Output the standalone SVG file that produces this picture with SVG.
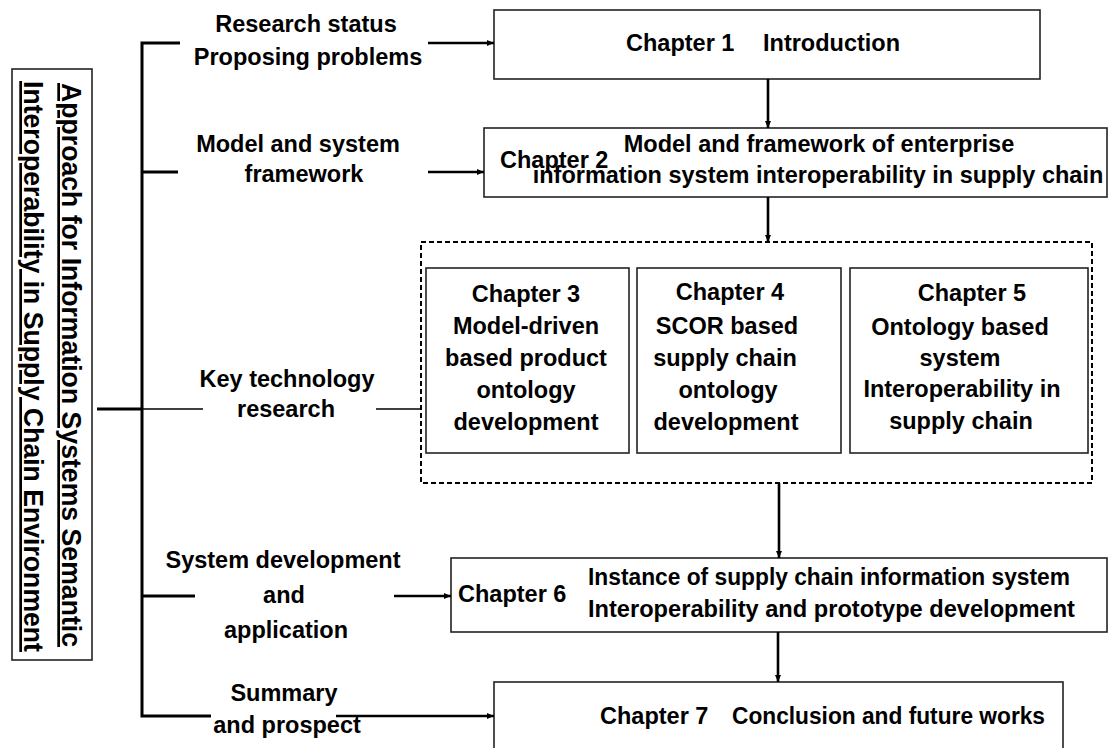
<svg xmlns="http://www.w3.org/2000/svg" width="1108" height="748" viewBox="0 0 1108 748">
<style>
text{font-family:"Liberation Sans",Arial,sans-serif;font-weight:bold;font-size:23.5px;fill:#000}
.c{text-anchor:middle}
.box{fill:#fff;stroke:#222;stroke-width:1.6}
.dash{fill:none;stroke:#000;stroke-width:2;stroke-dasharray:5,3}
.bus{stroke:#000;stroke-width:3;fill:none}
.arr{stroke:#000;stroke-width:2.6;fill:none;marker-end:url(#ah)}
.thin{stroke:#000;stroke-width:1.3;fill:none}
.vt{font-size:27px;text-decoration:underline}
</style>
<defs>
<marker id="ah" markerUnits="userSpaceOnUse" markerWidth="8" markerHeight="8" refX="7" refY="3" orient="auto">
<path d="M0,0 L7,3 L0,6 z" fill="#000"/>
</marker>
</defs>
<rect width="1108" height="748" fill="#fff"/>

<g id="title">
<rect x="12" y="69" width="80" height="591" class="box"/>
<text class="vt" transform="translate(62,83) rotate(90)" textLength="564" lengthAdjust="spacingAndGlyphs">Approach for Information Systems Semantic</text>
<text class="vt" transform="translate(24,81) rotate(90)" textLength="571" lengthAdjust="spacingAndGlyphs">Interoperability in Supply Chain Environment</text>
</g>

<g id="labels">
<text class="c" x="306" y="32">Research status</text>
<text class="c" x="308" y="65">Proposing problems</text>
<text class="c" x="298" y="152">Model and system</text>
<text class="c" x="304" y="182">framework</text>
<text class="c" x="287" y="387">Key technology</text>
<text class="c" x="286" y="417">research</text>
<text class="c" x="283" y="568">System development</text>
<text class="c" x="284" y="603">and</text>
<text class="c" x="286" y="638">application</text>
<text class="c" x="284" y="701">Summary</text>
<text class="c" x="287" y="733">and prospect</text>
</g>

<g id="ch1">
<rect x="494" y="10" width="546" height="69" class="box"/>
<text x="626" y="51">Chapter 1</text>
<text x="763" y="51">Introduction</text>
</g>

<g id="ch2">
<rect x="484" y="128" width="623" height="69" class="box"/>
<text x="500" y="168">Chapter 2</text>
<text class="c" x="819" y="152">Model and framework of enterprise</text>
<text class="c" x="818" y="183">information system interoperability in supply chain</text>
</g>

<g id="group345">
<rect x="421" y="242" width="671" height="241" class="dash"/>
</g>

<g id="ch3">
<rect x="426" y="268" width="203" height="185" class="box"/>
<text class="c" x="526" y="302">Chapter 3</text>
<text class="c" x="526" y="334">Model-driven</text>
<text class="c" x="526" y="366">based product</text>
<text class="c" x="526" y="398">ontology</text>
<text class="c" x="526" y="430">development</text>
</g>

<g id="ch4">
<rect x="637" y="268" width="204" height="185" class="box"/>
<text class="c" x="730" y="300">Chapter 4</text>
<text class="c" x="727" y="334">SCOR based</text>
<text class="c" x="725" y="366">supply chain</text>
<text class="c" x="728" y="398">ontology</text>
<text class="c" x="726" y="430">development</text>
</g>

<g id="ch5">
<rect x="850" y="268" width="238" height="185" class="box"/>
<text class="c" x="972" y="301">Chapter 5</text>
<text class="c" x="960" y="335">Ontology based</text>
<text class="c" x="960" y="366">system</text>
<text class="c" x="962" y="397">Interoperability in</text>
<text class="c" x="961" y="429">supply chain</text>
</g>

<g id="ch6">
<rect x="451" y="558" width="656" height="74" class="box"/>
<text x="458" y="602">Chapter 6</text>
<text x="588" y="585" textLength="482" lengthAdjust="spacingAndGlyphs">Instance of supply chain information system</text>
<text x="588" y="617" textLength="487" lengthAdjust="spacingAndGlyphs">Interoperability and prototype development</text>
</g>

<g id="ch7">
<rect x="494" y="682" width="569" height="80" class="box"/>
<text x="600" y="724">Chapter 7</text>
<text x="732" y="724" textLength="313" lengthAdjust="spacingAndGlyphs">Conclusion and future works</text>
</g>

<g id="connectors">
<path class="bus" d="M180,43 H142 V716 H211"/>
<path class="bus" d="M142,172 H178"/>
<path class="bus" d="M142,596 H195"/>
<path class="bus" d="M97,409 H142"/>
<path class="thin" d="M142,409 H203"/>
<path class="thin" d="M376,409 H421"/>
<path class="arr" d="M428,43 H494"/>
<path class="arr" d="M428,172 H484"/>
<path class="arr" d="M394,596 H451"/>
<path class="arr" d="M336,716 H494"/>
<path class="arr" d="M768,79 V128"/>
<path class="arr" d="M768,197 V242"/>
<path class="arr" d="M779,483 V558"/>
<path class="arr" d="M778,632 V682"/>
</g>
</svg>
